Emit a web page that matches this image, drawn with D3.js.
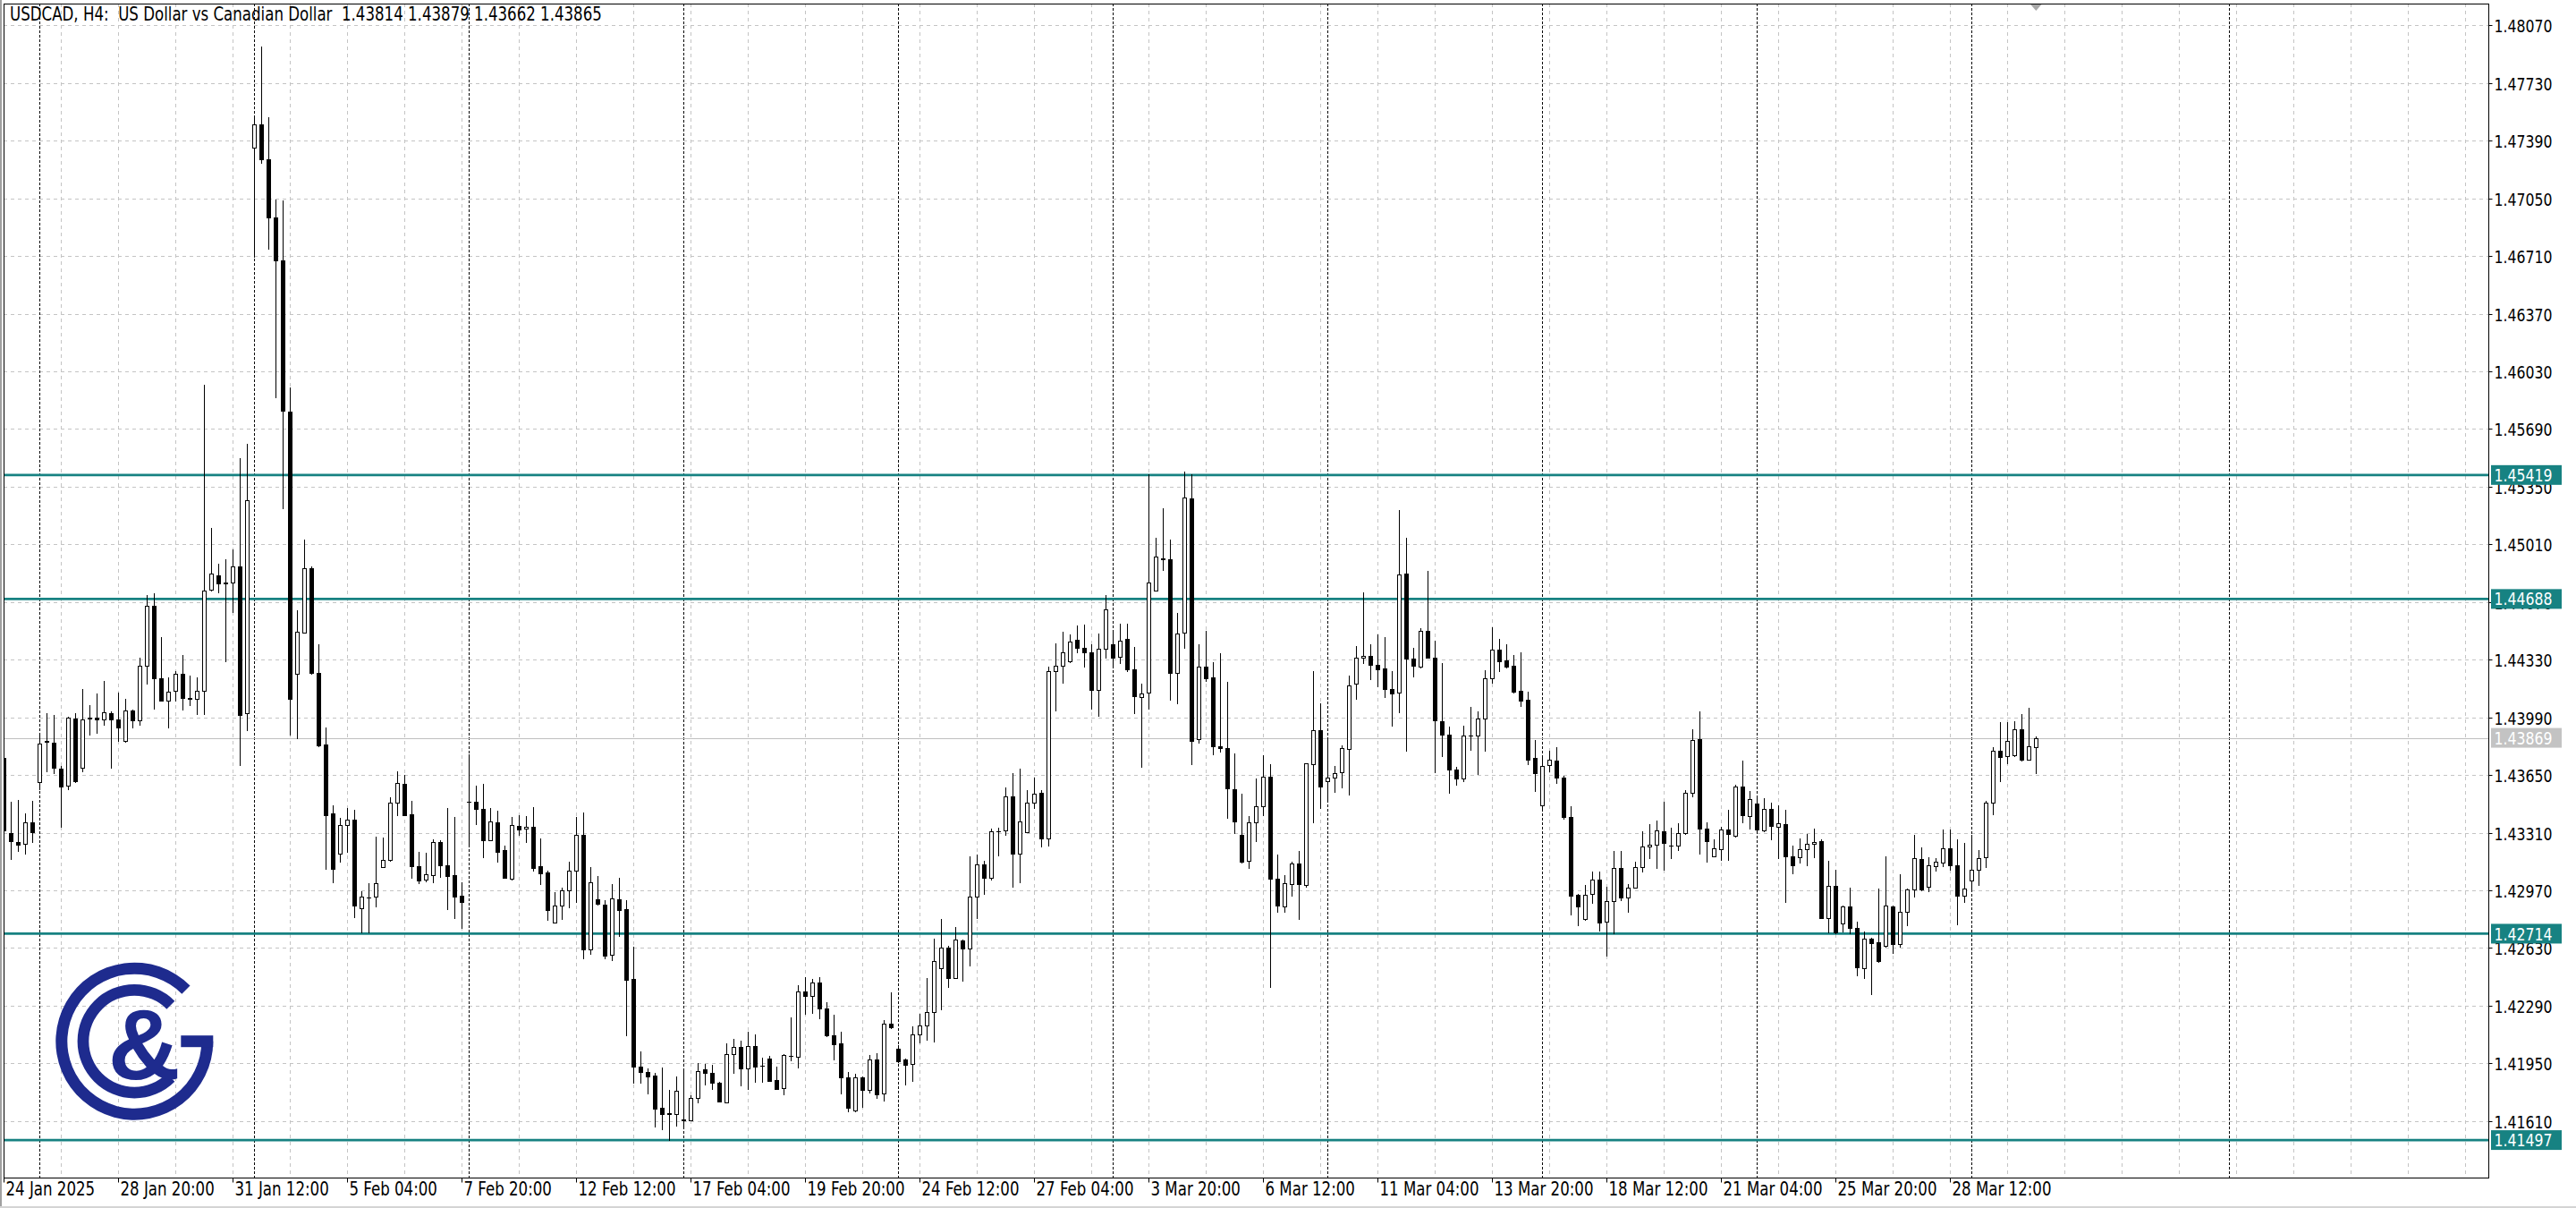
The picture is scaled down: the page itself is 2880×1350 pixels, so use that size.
<!DOCTYPE html>
<html><head><meta charset="utf-8">
<script src="https://cdn.jsdelivr.net/npm/d3@7"></script>
<style>html,body{margin:0;padding:0;background:#fff;overflow:hidden}svg{display:block}</style>
</head><body>
<svg id="chart" width="2880" height="1350"></svg>
<script>
const symbol = "USDCAD", timeframe = "H4", description = "US Dollar vs Canadian Dollar";
const opens = [1.43750,1.43307,1.43253,1.43243,1.43372,1.43608,1.43844,1.43841,1.43689,1.43589,
1.43983,1.43695,1.43983,1.43989,1.43976,1.44012,1.43976,1.43850,1.44031,1.43970,
1.44296,1.44648,1.44219,1.44089,1.44144,1.44245,1.44106,1.44099,1.44148,1.44742,
1.44829,1.44787,1.44787,1.44881,1.44012,1.47347,1.47486,1.47282,1.46936,1.46684,
1.45792,1.44245,1.44487,1.44868,1.44254,1.43831,1.43421,1.43188,1.43353,1.43388,
1.42865,1.42928,1.42932,1.43106,1.43148,1.43486,1.43598,1.43419,1.43111,1.43032,
1.43058,1.43255,1.43120,1.43058,1.42939,1.43494,1.43491,1.43450,1.43267,1.43369,
1.43208,1.43037,1.43348,1.43332,1.43343,1.43111,1.43076,1.42782,1.42882,1.42968,
1.43085,1.43296,1.42624,1.42917,1.42886,1.42592,1.42917,1.42859,1.42446,1.41929,
1.41901,1.41880,1.41686,1.41655,1.41649,1.41621,1.41612,1.41744,1.41913,1.41891,
1.41835,1.41721,1.42002,1.42046,1.41918,1.42050,1.41934,1.41979,1.41849,1.41805,
1.41992,1.41990,1.42371,1.42345,1.42424,1.42271,1.42116,1.42067,1.41865,1.41671,
1.41865,1.41791,1.41972,1.41773,1.42183,1.42037,1.41972,1.41944,1.42120,1.42173,
1.42252,1.42509,1.42630,1.42454,1.42676,1.42626,1.42931,1.43122,1.43043,1.43319,
1.43325,1.43522,1.43184,1.43312,1.43485,1.43545,1.43277,1.44265,1.44292,1.44322,
1.44446,1.44401,1.44374,1.44152,1.44396,1.44419,1.44349,1.44450,1.44272,1.44112,
1.44137,1.44739,1.44929,1.44924,1.44254,1.44491,1.45281,1.43864,1.44288,1.44225,
1.43821,1.43809,1.43566,1.43299,1.43144,1.43369,1.43464,1.43638,1.43040,1.42877,
1.43008,1.43126,1.43001,1.43712,1.43915,1.43615,1.43633,1.43667,1.43803,1.44191,
1.44340,1.44351,1.44301,1.44277,1.44159,1.44137,1.44839,1.44339,1.44290,1.44499,
1.44344,1.43968,1.43886,1.43681,1.43627,1.43885,1.43885,1.43985,1.44221,1.44388,
1.44324,1.44295,1.44144,1.44094,1.43750,1.43472,1.43708,1.43736,1.43636,1.43403,
1.42942,1.42800,1.42951,1.43033,1.42785,1.42905,1.43100,1.42927,1.42985,1.43109,
1.43227,1.43240,1.43318,1.43236,1.43232,1.43305,1.43545,1.43863,1.43336,1.43172,
1.43214,1.43331,1.43294,1.43581,1.43409,1.43480,1.43322,1.43448,1.43344,1.43360,
1.43172,1.43163,1.43211,1.43242,1.43260,1.42808,1.42996,1.42773,1.42873,1.42750,
1.42513,1.42683,1.42662,1.42641,1.42877,1.42653,1.42841,1.42973,1.43155,1.42993,
1.43111,1.43132,1.43216,1.43116,1.42940,1.43026,1.43089,1.43163,1.43489,1.43791,
1.43761,1.43765,1.43920,1.43742,1.43814];
const highs = [1.43776,1.43492,1.43501,1.43421,1.43495,1.43896,1.44012,1.44002,1.43702,1.43993,
1.44012,1.44157,1.44060,1.44131,1.44203,1.44025,1.44138,1.44099,1.44038,1.44342,
1.44710,1.44720,1.44461,1.44228,1.44261,1.44358,1.44235,1.44228,1.45951,1.45107,
1.44897,1.44923,1.44978,1.45521,1.45602,1.47541,1.47944,1.47531,1.47046,1.47040,
1.45935,1.44623,1.45036,1.44881,1.44422,1.43931,1.43469,1.43395,1.43453,1.43446,
1.42967,1.43014,1.43287,1.43280,1.43521,1.43672,1.43651,1.43498,1.43197,1.43190,
1.43269,1.43266,1.43457,1.43401,1.43018,1.43770,1.43586,1.43598,1.43457,1.43440,
1.43234,1.43401,1.43415,1.43410,1.43461,1.43278,1.43088,1.42961,1.42986,1.43137,
1.43401,1.43427,1.43107,1.43055,1.42912,1.43005,1.43044,1.42909,1.42636,1.42020,
1.41918,1.41892,1.41924,1.41795,1.41874,1.41910,1.41762,1.41950,1.41945,1.41941,
1.41838,1.42067,1.42094,1.42085,1.42138,1.42120,1.41985,1.41993,1.41932,1.42002,
1.42222,1.42412,1.42459,1.42445,1.42459,1.42310,1.42236,1.42138,1.41897,1.41888,
1.41870,1.41997,1.42011,1.42204,1.42366,1.42055,1.41976,1.42169,1.42243,1.42454,
1.42685,1.42799,1.42644,1.42753,1.42679,1.43172,1.43180,1.43142,1.43334,1.43339,
1.43576,1.43661,1.43685,1.43559,1.43634,1.43562,1.44290,1.44428,1.44495,1.44480,
1.44532,1.44536,1.44419,1.44484,1.44712,1.44495,1.44541,1.44541,1.44405,1.44186,
1.45421,1.45048,1.45224,1.45037,1.44604,1.45439,1.45421,1.44419,1.44502,1.44315,
1.44367,1.44198,1.43776,1.43539,1.43408,1.43627,1.43769,1.43712,1.43182,1.43062,
1.43137,1.43200,1.43719,1.44265,1.44073,1.43870,1.43701,1.43825,1.44238,1.44412,
1.44728,1.44423,1.44480,1.44462,1.44265,1.45213,1.45048,1.44399,1.44517,1.44853,
1.44441,1.44308,1.43936,1.43696,1.43941,1.44050,1.44026,1.44266,1.44522,1.44453,
1.44422,1.44357,1.44372,1.44139,1.43854,1.43767,1.43794,1.43812,1.43645,1.43467,
1.42949,1.43000,1.43082,1.43082,1.42991,1.43203,1.43200,1.43009,1.43140,1.43318,
1.43358,1.43381,1.43490,1.43340,1.43363,1.43563,1.43917,1.44023,1.43372,1.43272,
1.43345,1.43445,1.43590,1.43736,1.43554,1.43524,1.43511,1.43489,1.43471,1.43445,
1.43234,1.43274,1.43304,1.43336,1.43272,1.43146,1.43093,1.42878,1.42984,1.42785,
1.42729,1.42688,1.42982,1.43169,1.42878,1.43063,1.42982,1.43295,1.43221,1.43163,
1.43160,1.43327,1.43330,1.43269,1.43248,1.43295,1.43207,1.43497,1.43814,1.43960,
1.43960,1.43967,1.44008,1.44048,1.43879];
const lows = [1.43307,1.43156,1.43204,1.43188,1.43253,1.43566,1.43669,1.43663,1.43346,1.43566,
1.43608,1.43673,1.43886,1.43896,1.43947,1.43695,1.43850,1.43847,1.43931,1.43944,
1.44190,1.44041,1.44086,1.43931,1.44086,1.44035,1.44060,1.44009,1.44009,1.44739,
1.44729,1.44319,1.44610,1.43711,1.43912,1.46707,1.47259,1.46755,1.45876,1.45224,
1.43886,1.43867,1.44487,1.44245,1.43818,1.43097,1.43017,1.43139,1.43194,1.42811,
1.42724,1.42724,1.42873,1.43106,1.43146,1.43415,1.43413,1.43041,1.43014,1.43023,
1.43019,1.43049,1.42861,1.42808,1.42747,1.43243,1.43362,1.43164,1.43267,1.43141,
1.43044,1.43035,1.43296,1.43252,1.43088,1.43009,1.42798,1.42782,1.42803,1.42868,
1.42903,1.42566,1.42597,1.42886,1.42566,1.42557,1.42703,1.42117,1.41836,1.41836,
1.41774,1.41575,1.41563,1.41500,1.41581,1.41572,1.41611,1.41721,1.41827,1.41800,
1.41724,1.41719,1.41891,1.41821,1.41800,1.41838,1.41838,1.41845,1.41798,1.41765,
1.41967,1.41923,1.42240,1.42248,1.42213,1.42108,1.41972,1.41773,1.41668,1.41668,
1.41691,1.41779,1.41744,1.41729,1.42159,1.41958,1.41826,1.41844,1.42072,1.42090,
1.42076,1.42269,1.42401,1.42451,1.42438,1.42524,1.42806,1.42947,1.43031,1.43175,
1.43298,1.42992,1.43019,1.43312,1.43453,1.43230,1.43234,1.44028,1.44193,1.44317,
1.44374,1.44288,1.44040,1.43999,1.44344,1.44292,1.44310,1.44265,1.44017,1.43697,
1.44040,1.44739,1.44857,1.44096,1.44073,1.44401,1.43712,1.43841,1.44204,1.43773,
1.43787,1.43396,1.43306,1.43132,1.43103,1.43261,1.43414,1.42399,1.42844,1.42844,
1.42938,1.42803,1.42990,1.43369,1.43453,1.43509,1.43550,1.43577,1.43536,1.44101,
1.44310,1.44213,1.44171,1.44107,1.43943,1.44022,1.43794,1.44230,1.44281,1.44341,
1.43667,1.43763,1.43545,1.43594,1.43612,1.43799,1.43658,1.43794,1.44195,1.44263,
1.44281,1.44135,1.44059,1.43714,1.43554,1.43454,1.43669,1.43605,1.43391,1.42827,
1.42764,1.42795,1.42896,1.42731,1.42586,1.42718,1.42914,1.42845,1.42983,1.43078,
1.43158,1.43103,1.43091,1.43158,1.43209,1.43303,1.43523,1.43187,1.43136,1.43171,
1.43151,1.43149,1.43285,1.43372,1.43332,1.43313,1.43320,1.43269,1.43158,1.42900,
1.43072,1.43132,1.43119,1.43167,1.42806,1.42720,1.42718,1.42729,1.42718,1.42469,
1.42455,1.42360,1.42549,1.42639,1.42601,1.42636,1.42764,1.42931,1.42972,1.42966,
1.43084,1.43111,1.43093,1.42771,1.42903,1.42975,1.43000,1.43105,1.43418,1.43612,
1.43721,1.43763,1.43735,1.43740,1.43662];
const closes = [1.43324,1.43259,1.43240,1.43372,1.43314,1.43837,1.43850,1.43692,1.43582,1.43989,
1.43614,1.43976,1.43989,1.43980,1.44022,1.43976,1.43931,1.44031,1.43970,1.44296,
1.44648,1.44219,1.44089,1.44141,1.44248,1.44106,1.44099,1.44148,1.44739,1.44836,
1.44778,1.44781,1.44881,1.44002,1.45269,1.47486,1.47282,1.46936,1.46684,1.45796,
1.44099,1.44493,1.44868,1.44254,1.43825,1.43414,1.43097,1.43356,1.43388,1.42880,
1.42932,1.42926,1.43012,1.43148,1.43486,1.43602,1.43415,1.43111,1.43028,1.43065,
1.43255,1.43120,1.43053,1.42935,1.42900,1.43491,1.43450,1.43267,1.43375,1.43199,
1.43046,1.43354,1.43331,1.43343,1.43102,1.43072,1.42852,1.42882,1.42968,1.43085,
1.43296,1.42624,1.43018,1.42888,1.42587,1.42921,1.42856,1.42443,1.41929,1.41897,
1.41874,1.41681,1.41648,1.41649,1.41787,1.41612,1.41744,1.41906,1.41892,1.41835,
1.41726,1.42002,1.42046,1.41918,1.42050,1.41932,1.41935,1.41847,1.41800,1.41997,
1.41995,1.42371,1.42345,1.42424,1.42271,1.42116,1.42064,1.41865,1.41686,1.41865,
1.41791,1.41972,1.41768,1.42183,1.42160,1.41962,1.41941,1.42120,1.42173,1.42252,
1.42551,1.42630,1.42451,1.42679,1.42626,1.42931,1.43122,1.43045,1.43318,1.43318,
1.43522,1.43184,1.43374,1.43485,1.43541,1.43277,1.44262,1.44292,1.44371,1.44439,
1.44401,1.44374,1.44152,1.44396,1.44626,1.44344,1.44441,1.44272,1.44114,1.44130,
1.44784,1.44936,1.44922,1.44254,1.44486,1.45285,1.43852,1.44288,1.44220,1.43818,
1.43809,1.43570,1.43374,1.43141,1.43369,1.43464,1.43638,1.43040,1.42882,1.43013,
1.43130,1.43006,1.43717,1.43915,1.43581,1.43633,1.43660,1.43807,1.44180,1.44340,
1.44351,1.44299,1.44274,1.44157,1.44130,1.44834,1.44339,1.44295,1.44499,1.44344,
1.43972,1.43890,1.43681,1.43627,1.43881,1.43883,1.43981,1.44221,1.44388,1.44323,
1.44290,1.44141,1.44090,1.43741,1.43663,1.43703,1.43739,1.43636,1.43400,1.42936,
1.42873,1.42945,1.43033,1.42778,1.42904,1.43100,1.42927,1.42985,1.43109,1.43227,
1.43238,1.43321,1.43249,1.43234,1.43309,1.43545,1.43857,1.43332,1.43258,1.43218,
1.43327,1.43300,1.43581,1.43412,1.43509,1.43327,1.43448,1.43348,1.43366,1.43172,
1.43119,1.43211,1.43242,1.43253,1.42808,1.42996,1.42720,1.42873,1.42750,1.42518,
1.42683,1.42659,1.42551,1.42878,1.42653,1.42841,1.42975,1.43158,1.42973,1.43116,
1.43137,1.43216,1.43119,1.42940,1.42979,1.43089,1.43158,1.43489,1.43791,1.43758,
1.43849,1.43920,1.43740,1.43818,1.43865];
const timeTickIndex = [0,16,32,48,64,80,96,112,128,144,160,176,192,208,224,240,256,272];
const timeTickLabels = ["24 Jan 2025","28 Jan 20:00","31 Jan 12:00","5 Feb 04:00","7 Feb 20:00","12 Feb 12:00",
"17 Feb 04:00","19 Feb 20:00","24 Feb 12:00","27 Feb 04:00","3 Mar 20:00","6 Mar 12:00","11 Mar 04:00",
"13 Mar 20:00","18 Mar 12:00","21 Mar 04:00","25 Mar 20:00","28 Mar 12:00"];
const priceTicks = [1.48070,1.47730,1.47390,1.47050,1.46710,1.46370,1.46030,1.45690,1.45350,1.45010,
1.44670,1.44330,1.43990,1.43650,1.43310,1.42970,1.42630,1.42290,1.41950,1.41610];
const priceLabels = ["1.48070","1.47730","1.47390","1.47050","1.46710","1.46370","1.46030","1.45690","1.45350","1.45010",
"1.44670","1.44330","1.43990","1.43650","1.43310","1.42970","1.42630","1.42290","1.41950","1.41610"];
const levelPrices = [1.45419, 1.44688, 1.42714, 1.41497];
const levelLabels = ["1.45419","1.44688","1.42714","1.41497"];
const bidPrice = 1.43869, bidLabel = "1.43869";
const weekSeparatorIndex = [5,35,65,95,125,155,185,215,245,275,311];

const svg = d3.select("#chart");
const FONT = "'DejaVu Sans Condensed','DejaVu Sans',sans-serif";
const FS_AXIS = 17.5, FS_TEXT = 18.5, SY = 1.12;
const P = {left:4, top:4, right:2782, bottom:1316};
const x = d3.scaleLinear().domain([0, 347.2125]).range([4.3, 2782]);
const y = d3.scaleLinear().domain([1.41270, 1.48199]).range([1317.1, 4]);
const crisp = v => Math.round(v) + 0.5;
const fmt = d3.format(".5f");
const styleText = (s, fs) => s.attr("font-family",FONT).attr("font-size",fs).attr("font-stretch","condensed");

svg.append("rect").attr("width",2880).attr("height",1350).attr("fill","#fff");
svg.append("defs").append("clipPath").attr("id","plotclip").append("rect")
  .attr("x",P.left).attr("y",P.top).attr("width",P.right-P.left).attr("height",P.bottom-P.top);

const plot = svg.append("g").attr("clip-path","url(#plotclip)");
// grid
const gridIdx = d3.range(8, 348, 8);
plot.append("g").selectAll("line").data(gridIdx).join("line")
  .attr("x1",d=>crisp(x(d))).attr("x2",d=>crisp(x(d))).attr("y1",P.top).attr("y2",P.bottom)
  .attr("stroke","#c4c4c4").attr("stroke-width",1).attr("stroke-dasharray","4,4");
plot.append("g").selectAll("line").data(priceTicks).join("line")
  .attr("x1",P.left).attr("x2",P.right).attr("y1",d=>crisp(y(d))).attr("y2",d=>crisp(y(d)))
  .attr("stroke","#c4c4c4").attr("stroke-width",1).attr("stroke-dasharray","4,4");
// week separators
plot.append("g").selectAll("line").data(weekSeparatorIndex).join("line")
  .attr("x1",d=>crisp(x(d))).attr("x2",d=>crisp(x(d))).attr("y1",P.top).attr("y2",P.bottom)
  .attr("stroke","#000").attr("stroke-width",1).attr("stroke-dasharray","3,2");

// logo
const NAVY = "#1e2b8e";
const logo = svg.append("g").attr("transform","translate(150.3,1163.7)");
logo.append("path").attr("fill",NAVY)
  .attr("d", d3.arc()({innerRadius:75, outerRadius:88, startAngle:Math.PI/2, endAngle:Math.PI*2+Math.PI/4}));
logo.append("rect").attr("x",52).attr("y",-6.5).attr("width",36).attr("height",13).attr("fill",NAVY);
logo.append("path").attr("fill",NAVY)
  .attr("d", d3.arc()({innerRadius:51, outerRadius:63.7, startAngle:Math.PI*0.75, endAngle:Math.PI*2+Math.PI/4}));
logo.append("text").attr("x",11).attr("y",42).attr("text-anchor","middle")
  .attr("font-family","'Liberation Sans', Arial, sans-serif").attr("font-weight","bold").attr("font-size",112).attr("fill",NAVY).text("&");

// level lines
plot.append("line").attr("x1",P.left).attr("x2",P.right).attr("y1",crisp(y(bidPrice))).attr("y2",crisp(y(bidPrice)))
  .attr("stroke","#c0c0c0").attr("stroke-width",1);
plot.append("g").selectAll("line").data(levelPrices).join("line")
  .attr("x1",P.left).attr("x2",P.right).attr("y1",d=>y(d)).attr("y2",d=>y(d))
  .attr("stroke","#178282").attr("stroke-width",2.7);

// candles
const idx = d3.range(opens.length);
const cg = plot.append("g");
cg.selectAll("line.wick").data(idx).join("line").attr("class","wick")
  .attr("x1",i=>Math.round(x(i))+0.5).attr("x2",i=>Math.round(x(i))+0.5)
  .attr("y1",i=>Math.round(y(highs[i]))).attr("y2",i=>Math.round(y(lows[i]))+1)
  .attr("stroke","#000").attr("stroke-width",1);
idx.forEach(i => {
  const r = Math.round(x(i));
  const top = Math.round(y(Math.max(opens[i],closes[i])));
  const bot = Math.round(y(Math.min(opens[i],closes[i])));
  const bull = closes[i] > opens[i];
  if (bot - top < 1) {
    cg.append("line").attr("x1",r-2).attr("x2",r+3).attr("y1",top+0.5).attr("y2",top+0.5)
      .attr("stroke","#000").attr("stroke-width",1);
  } else {
    cg.append("rect").attr("x",r-1.5).attr("y",top+0.5).attr("width",4).attr("height",bot-top)
      .attr("fill",bull?"#fff":"#000").attr("stroke","#000").attr("stroke-width",1);
  }
});

// shift marker
svg.append("path").attr("d",`M${x(284)-7},${P.top} L${x(284)+7},${P.top} L${x(284)},${P.top+8} Z`).attr("fill","#a8a8a8");

// plot border
svg.append("rect").attr("x",P.left+0.5).attr("y",P.top+0.5).attr("width",P.right-P.left).attr("height",P.bottom-P.top)
  .attr("fill","none").attr("stroke","#000").attr("stroke-width",1);

// price axis
const ya = svg.append("g").attr("transform",`translate(${P.right+0.5},0)`)
  .call(d3.axisRight(y).tickValues(priceTicks).tickSize(4).tickPadding(2).tickFormat((d,i)=>priceLabels[i]));
ya.select(".domain").remove();
ya.selectAll(".tick").attr("transform",d=>`translate(0,${crisp(y(d))})`);
styleText(ya.selectAll("text"), FS_AXIS).attr("fill","#000").attr("x",6).attr("dy","0.36em")
  .attr("transform",`scale(1,${SY})`);
ya.selectAll("line").attr("stroke","#000");

// time axis
const xa = svg.append("g").attr("transform",`translate(0,${P.bottom+0.5})`)
  .call(d3.axisBottom(x).tickValues(timeTickIndex).tickSize(5).tickFormat((d,i)=>timeTickLabels[i]));
xa.select(".domain").remove();
xa.selectAll(".tick").attr("transform",d=>`translate(${crisp(x(d))},0)`);
styleText(xa.selectAll("text"), FS_TEXT).attr("fill","#000")
  .attr("text-anchor","start").attr("x",2).attr("y",4).attr("dy","0.73em")
  .attr("transform",`scale(1,${SY})`);
xa.selectAll("line").attr("stroke","#000");

// price tags
const tagG = svg.append("g");
const tags = levelPrices.map((p,i)=>({p, t:levelLabels[i], c:"#178282"})).concat([{p:bidPrice,t:bidLabel,c:"#c3c3c3"}]);
tags.forEach(d=>{
  const cy = y(d.p);
  tagG.append("rect").attr("x",P.right+3).attr("y",cy-11).attr("width",79).attr("height",22).attr("fill",d.c);
  styleText(tagG.append("text"), FS_AXIS).attr("transform",`translate(${P.right+6.5},${cy}) scale(1,${SY})`)
    .attr("dy","0.36em").attr("fill","#fff").text(d.t);
});

// title
const n = opens.length - 1;
styleText(svg.append("text"), FS_TEXT).attr("transform",`translate(11,23) scale(1,${SY})`).attr("fill","#000")
  .style("white-space","pre")
  .text(`${symbol}, ${timeframe}:  ${description}  ${fmt(opens[n])} ${fmt(highs[n])} ${fmt(lows[n])} ${fmt(closes[n])}`);

// window edges
svg.append("rect").attr("x",0).attr("y",0).attr("width",2).attr("height",1350).attr("fill","#a0a0a0");
svg.append("rect").attr("x",0).attr("y",1348).attr("width",2880).attr("height",2).attr("fill","#d4d4d4");
</script>
</body></html>
